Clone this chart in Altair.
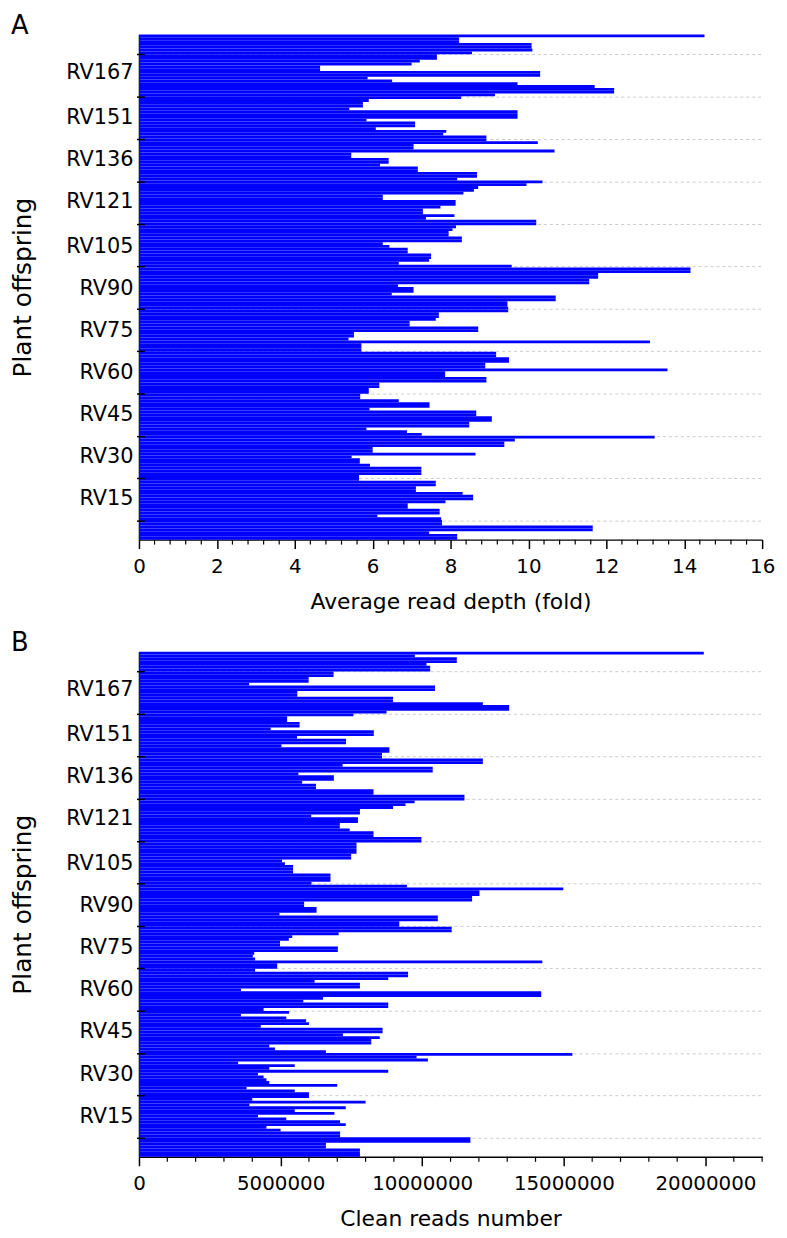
import altair as alt
import pandas as pd

# Samples listed top to bottom: RV180 ... RV1
depth = [
    14.52, 8.22, 8.22, 10.08, 10.08, 10.1, 8.55, 7.65, 7.65, 7.21,
    7.0, 4.65, 4.65, 10.3, 10.3, 5.87, 6.5, 9.72, 11.7, 12.2,
    12.2, 9.14, 8.27, 5.9, 5.75, 5.75, 5.4, 9.72, 9.72, 9.72,
    5.84, 7.09, 7.09, 6.08, 7.89, 7.81, 8.92, 8.92, 10.24, 7.05,
    7.05, 10.67, 5.45, 5.45, 6.41, 6.41, 6.19, 7.16, 7.16, 8.68,
    8.68, 8.17, 10.36, 9.95, 8.71, 8.6, 8.33, 6.26, 6.26, 8.13,
    8.13, 7.74, 7.29, 7.29, 8.1, 7.37, 10.2, 10.2, 8.14, 8.05,
    7.95, 7.95, 8.29, 8.29, 6.26, 6.43, 6.9, 6.9, 7.5, 7.5,
    7.45, 6.67, 9.57, 14.16, 14.16, 11.79, 11.79, 11.56, 11.56, 6.65,
    7.05, 7.05, 6.49, 10.7, 10.7, 9.46, 9.46, 9.48, 9.48, 7.7,
    7.7, 7.62, 6.95, 6.95, 8.71, 8.71, 5.52, 5.52, 5.38, 13.12,
    5.71, 5.71, 5.71, 9.17, 9.17, 9.5, 9.5, 8.89, 8.89, 13.57,
    7.86, 7.86, 8.92, 8.92, 6.17, 6.17, 5.9, 5.9, 5.68, 5.68,
    6.67, 7.46, 7.46, 5.92, 8.66, 8.66, 9.06, 9.06, 8.48, 8.48,
    5.84, 6.88, 7.26, 13.24, 9.65, 9.38, 9.38, 6.0, 6.0, 8.64,
    5.46, 5.67, 5.67, 5.93, 7.25, 7.25, 7.25, 5.65, 5.65, 7.62,
    7.62, 7.11, 7.11, 8.31, 8.58, 8.58, 7.87, 6.9, 6.9, 7.72,
    7.72, 6.12, 7.76, 7.78, 7.78, 11.65, 11.65, 7.45, 8.17, 8.17,
]

# Clean reads, in millions
reads_million = [
    19.94, 9.74, 11.22, 11.22, 10.15, 10.28, 10.28, 6.87, 6.87, 5.99,
    5.99, 3.89, 10.45, 10.45, 5.59, 5.59, 8.97, 8.97, 12.14, 13.07,
    13.07, 8.74, 7.57, 5.23, 5.23, 5.67, 5.67, 4.65, 8.29, 8.29,
    5.58, 7.31, 7.31, 5.03, 8.84, 8.84, 8.58, 8.58, 12.14, 12.14,
    7.19, 10.37, 10.37, 5.63, 6.88, 6.88, 5.76, 6.25, 6.25, 8.28,
    8.28, 11.49, 11.49, 9.73, 9.41, 8.97, 7.8, 7.8, 6.08, 7.73,
    7.73, 7.09, 7.09, 7.44, 8.28, 8.28, 9.97, 9.97, 7.68, 7.68,
    7.68, 7.68, 7.49, 7.49, 5.05, 5.15, 5.44, 5.44, 5.44, 6.76,
    6.76, 6.76, 6.09, 9.46, 14.98, 12.02, 12.02, 11.76, 11.76, 5.83,
    5.83, 6.27, 6.27, 4.96, 10.55, 10.55, 9.19, 9.19, 11.04, 11.04,
    7.05, 5.41, 5.29, 4.98, 4.98, 7.02, 7.02, 4.07, 4.02, 4.1,
    14.24, 4.88, 4.88, 4.1, 9.5, 9.5, 8.8, 6.2, 7.8, 7.8,
    3.6, 14.2, 14.2, 6.5, 5.8, 8.8, 8.8, 4.4, 5.3, 3.6,
    5.2, 5.9, 6.0, 4.3, 8.6, 8.6, 7.2, 8.5, 8.2, 8.2,
    4.6, 4.8, 6.6, 15.3, 9.8, 10.2, 3.5, 5.5, 4.6, 8.8,
    4.2, 4.4, 4.5, 4.6, 7.0, 3.8, 5.5, 6.0, 6.0, 4.0,
    8.0, 3.9, 7.3, 5.5, 6.9, 4.2, 5.2, 7.1, 7.3, 4.5,
    5.0, 7.1, 7.1, 11.7, 11.7, 6.6, 6.6, 7.8, 7.8, 7.8,
]

sample_no = list(range(180, 0, -1))
label_samples = [15, 30, 45, 60, 75, 90, 105, 121, 136, 151, 167]
tick_positions = [7.1, 22.3, 37.2, 52.4, 67.6, 82.6, 97.8, 112.8, 127.9, 143.1, 158.2, 173.4]

depth_major = [0, 2, 4, 6, 8, 10, 12, 14, 16]
depth_minor = [i * 0.4 for i in range(41) if i % 5 != 0]
reads_major = [0, 5000000, 10000000, 15000000, 20000000]
reads_minor = [i * 1000000 for i in range(23) if i % 5 != 0]

df = pd.DataFrame({
    "sample": sample_no,
    "depth": depth,
    "reads": [v * 1e6 for v in reads_million],
})
df["lo"] = df["sample"] - 0.5
df["hi"] = df["sample"] + 0.5
df["zero"] = 0.0

FONT = "DejaVu Sans"
W, H = 628, 509


def panel(field, xmax, major, minor, xtitle, letter):
    xs = alt.Scale(domain=[0, xmax], nice=False, zero=False)
    ys = alt.Scale(domain=[0.5, 180.5], nice=False, zero=False)
    xa = alt.Axis(
        values=major, format="d", title=xtitle, grid=False,
        labelFlush=False, labelFont=FONT, labelFontSize=20,
        labelColor="black", labelPadding=8,
        tickSize=9, tickWidth=1.5, tickColor="black",
        domainColor="black", domainWidth=1.5,
        titleFont=FONT, titleFontSize=22, titleFontWeight="normal",
        titleColor="black", titlePadding=15,
    )
    ya = alt.Axis(
        values=label_samples, labelExpr="'RV' + datum.value",
        ticks=False, grid=False, labelFont=FONT, labelFontSize=21,
        labelColor="black", labelPadding=6,
        domainColor="black", domainWidth=1.5,
        title="Plant offspring", titleFont=FONT, titleFontSize=25,
        titleFontWeight="normal", titleColor="black", titlePadding=30,
    )
    tick_df = pd.DataFrame({"pos": tick_positions})
    minor_df = pd.DataFrame({"v": minor})

    grid = alt.Chart(tick_df).mark_rule(
        color="#cccccc", strokeDash=[3, 3], strokeWidth=1
    ).encode(
        y=alt.Y("pos:Q", scale=ys, axis=ya),
        x=alt.value(0),
        x2=alt.value(W),
    )

    bars = alt.Chart(df).mark_rect(color="#0000ff").encode(
        x=alt.X("zero:Q", scale=xs, axis=xa),
        x2=f"{field}:Q",
        y=alt.Y("lo:Q", scale=ys, axis=ya),
        y2="hi:Q",
    )

    yticks = alt.Chart(tick_df).mark_rule(color="black", strokeWidth=1.5).encode(
        y=alt.Y("pos:Q", scale=ys, axis=ya),
        x=alt.value(-2),
        x2=alt.value(6),
    )

    xminor = alt.Chart(minor_df).mark_rule(color="black", strokeWidth=1.2).encode(
        x=alt.X("v:Q", scale=xs, axis=xa),
        y=alt.value(H),
        y2=alt.value(H + 5),
    )

    return alt.layer(grid, bars, yticks, xminor).properties(
        width=W,
        height=H,
        title=alt.TitleParams(
            letter, anchor="start", frame="bounds", font=FONT, fontSize=26,
            fontWeight="normal", color="black", offset=-4,
        ),
    )


a = panel("depth", 16, depth_major, depth_minor, "Average read depth (fold)", "A")
b = panel("reads", 22000000, reads_major, reads_minor, "Clean reads number", "B")

chart = alt.vconcat(a, b, spacing=18).properties(
    padding={"left": 3, "top": 0, "right": 4, "bottom": 0}
).configure_view(stroke=None)

chart.save("out.html", embed_options={"renderer": "svg", "actions": False})
